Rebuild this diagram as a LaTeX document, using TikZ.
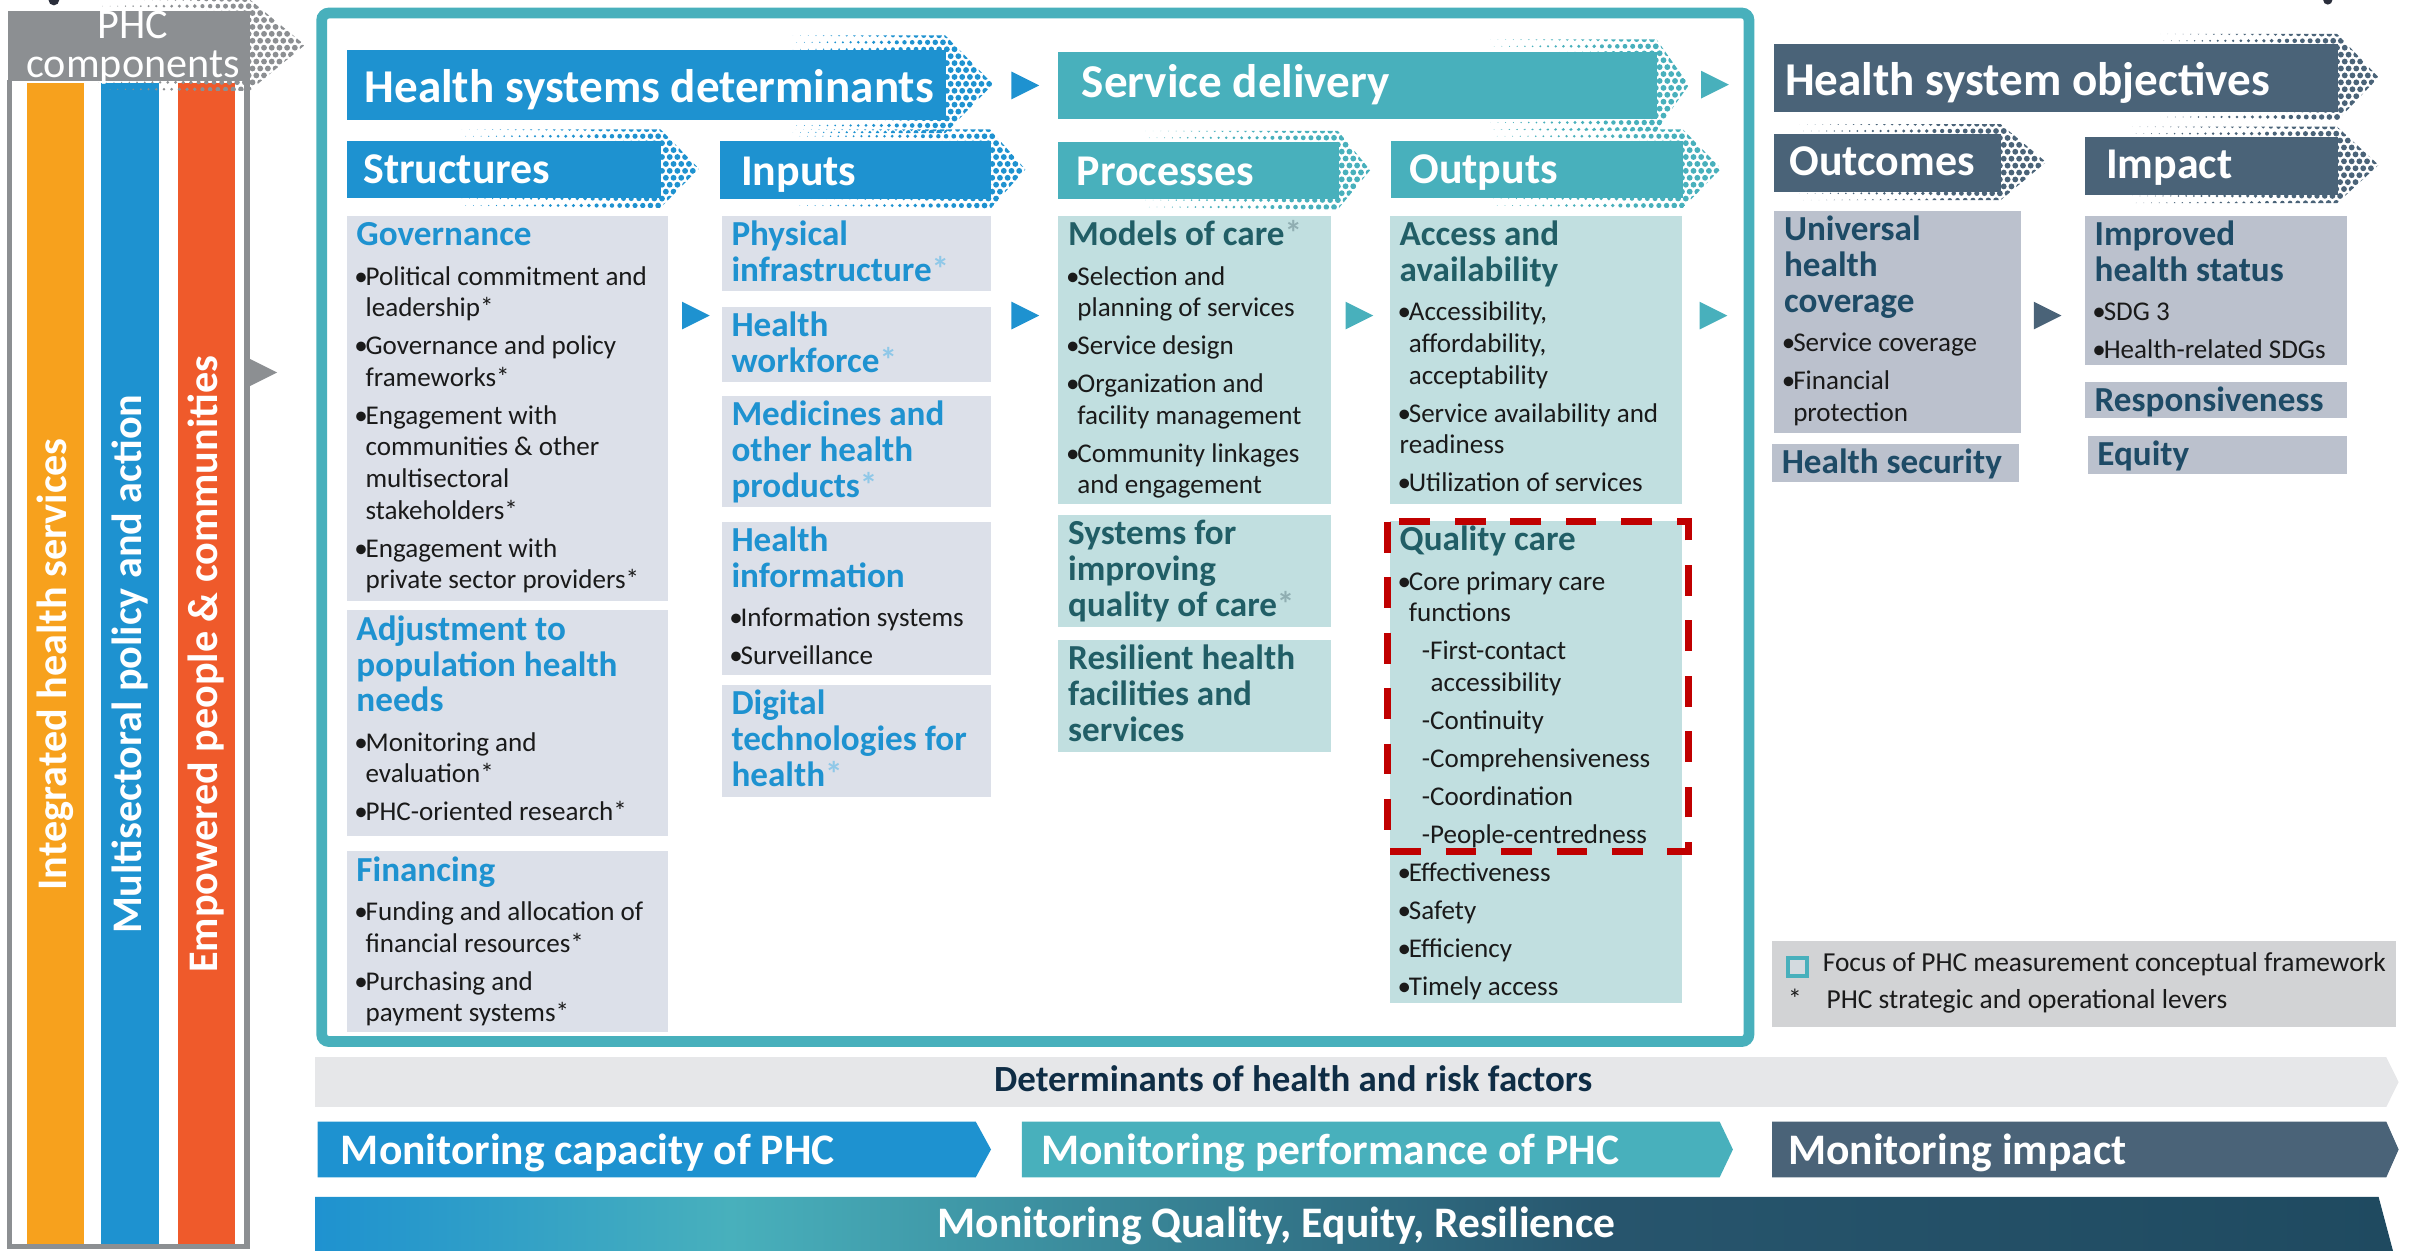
\documentclass[tikz,border=0pt]{standalone}
\usepackage{fontspec}
\setmainfont{Carlito}

\definecolor{hsdblue}{HTML}{1E92D0}
\definecolor{sdteal}{HTML}{48B0BC}
\definecolor{objslate}{HTML}{4A6378}
\definecolor{phcgray}{HTML}{8C8F92}
\definecolor{pillarorange}{HTML}{F7A11D}
\definecolor{pillarblue}{HTML}{1E92D0}
\definecolor{pillarred}{HTML}{EF5A2B}
\definecolor{detfill}{HTML}{DCE0E9}
\definecolor{sdfill}{HTML}{C1DFE0}
\definecolor{objfill}{HTML}{BBC1CD}
\definecolor{sdink}{HTML}{215E66}
\definecolor{objink}{HTML}{1E4B66}
\definecolor{bodyink}{HTML}{1A1A1A}
\definecolor{qred}{HTML}{C00000}
\definecolor{keyfill}{HTML}{D2D3D5}
\definecolor{keysquare}{HTML}{D3DADF}
\definecolor{riskfill}{HTML}{E6E7E9}
\definecolor{riskink}{HTML}{0F2D45}
\definecolor{qerdark}{HTML}{27556D}
\definecolor{qerend}{HTML}{1F4A60}
\definecolor{cropdot}{HTML}{2A2E3B}

\pgfdeclarehorizontalshading{qerbar}{100bp}{color(0bp)=(hsdblue); color(25bp)=(hsdblue);
  color(35bp)=(sdteal); color(56bp)=(qerdark); color(75bp)=(qerend); color(100bp)=(qerend)}

\newlength\unitpx
\setlength\unitpx{0.43803pt}

\tikzstyle{hdr} = [anchor=north west, inner sep=0pt, text=white, font=\fontsize{13.4}{15}\selectfont\bfseries]
\tikzstyle{subhdr} = [hdr, font=\fontsize{12.5}{14}\selectfont\bfseries]
\tikzstyle{cell} = [anchor=north west, inner sep=0pt, font=\fontsize{10}{10.2}\selectfont\bfseries]
\tikzstyle{detcell} = [cell, fill=detfill, text=hsdblue]
\tikzstyle{sdcell} = [cell, fill=sdfill, text=sdink]
\tikzstyle{objcell} = [cell, fill=objfill, text=objink]
\tikzstyle{pillar} = [rotate=90, inner sep=0pt, minimum width=755\unitpx, minimum height=37.4\unitpx, text=white, font=\fontsize{12}{14}\selectfont\bfseries]
\tikzstyle{phctext} = [anchor=base, inner sep=0pt, text=white, font=\fontsize{12}{13}\selectfont]
\tikzstyle{barlabel} = [anchor=base west, inner sep=0pt, text=white, font=\fontsize{12.4}{14}\selectfont\bfseries]
\tikzstyle{keytext} = [anchor=base west, inner sep=0pt, text=bodyink, font=\fontsize{7.8}{9}\selectfont]

% header text, left aligned in a box of fixed width
\newcommand\hdrtext[3]{\makebox[#1\unitpx][l]{\hspace*{#2\unitpx}#3}}
% box content: width, height, paragraphs
\newcommand\cellbody[3]{\parbox[t][#2\unitpx][t]{#1\unitpx}{\raggedright\leftskip=2.8pt\rightskip=-15pt plus 1fil\parskip=1.8pt\relax #3}}
\newcommand\ttl[1]{{\fontsize{10}{10.2}\selectfont\bfseries\rule{0pt}{8.5pt}#1\par}\vspace{0.4pt}}
\newcommand\lev{{\color{.!50!white}*}}
\newcommand\itm[2][2.6pt]{{\let\\\newline\mdseries\fontsize{7.7}{9}\selectfont\hangindent=#1\hangafter=1\relax\leavevmode\color{bodyink}\makebox[2.6pt][c]{•}#2\par}}
\newcommand\subitm[1]{{\let\\\newline\mdseries\fontsize{7.7}{9}\selectfont\hangindent=8.8pt\hangafter=1\relax\leavevmode\color{bodyink}\hspace*{6.3pt}-#1\par}}
\newcommand\pointer[3]{\fill[#1] (#2,#3-9) -- (#2+18,#3) -- (#2,#3+9) -- cycle;}

% dotted arrow end: colour, dots start, box edge, tip, top, bottom, overhang
\newcommand\halftone[7]{%
  \begin{scope}
    \clip (#2,#5-#7) -- (#3,#5-#7) -- (#4,{(#5+#6)/2}) -- (#3,#6+#7) -- (#2,#6+#7) -- cycle;
    \pgfmathtruncatemacro\htcols{(#4-#2)/5+1}
    \pgfmathtruncatemacro\htrows{(#6-#5+2*#7)/4.5+1}
    \foreach \i in {0,...,\htcols}{
      \foreach \j in {0,...,\htrows}{
        \pgfmathsetmacro\htx{#2+5*\i+2.5*mod(\j,2)}
        \pgfmathsetmacro\hty{#5-#7+4.5*\j}
        \pgfmathsetmacro\htr{0.15+1.75*min(1,max(0,(\htx-#2)/(#3-#2)))}
        \fill[#1] (\htx,\hty) circle[radius=\htr];
      }
    }
  \end{scope}}

\begin{document}
\begin{tikzpicture}[x=0.43803pt, y=-0.43803pt]
\useasboundingbox (0,0) rectangle (1568,812);
\clip (0,0) rectangle (1568,812);

\fill[cropdot] (35,0) circle[radius=3.5];
\fill[cropdot] (1512,0) circle[radius=3];

% PHC components
\node[pillar, fill=pillarorange] (ihs) at (36,431.5) {Integrated health services};
\node[pillar, fill=pillarblue] (msp) at (84.5,431.5) {Multisectoral policy and action};
\node[pillar, fill=pillarred] (epc) at (134,431.5) {Empowered people \& communities};
\draw[phcgray, line width=1.53pt] (6,52) -- (6,809.5) -- (160.5,809.5) -- (160.5,52);
\halftone{phcgray}{64}{162}{198}{6.5}{52}{7}
\node[fill=phcgray, anchor=north west, inner sep=0pt, minimum width=157\unitpx, minimum height=45.5\unitpx] (phchead) at (5,6.5) {};
\node[phctext] (phcword) at (86.5,25) {PHC};
\node[phctext] (phcparts) at (86.5,50.5) {components};
\pointer{phcgray}{162}{242}

\draw[sdteal, line width=3.07pt, rounded corners=2pt] (209,8.5) rectangle (1136,676.5);

% headers
\halftone{hsdblue}{515}{614}{645}{32}{77.5}{9}
\halftone{sdteal}{968}{1076}{1097}{33.6}{76.9}{8}
\halftone{objslate}{1403}{1518}{1545}{28}{72.5}{6}
\halftone{hsdblue}{300}{429}{454}{91}{128}{7}
\halftone{hsdblue}{517}{643}{666}{91}{129}{7}
\halftone{sdteal}{744}{869}{890}{92}{129}{7}
\halftone{sdteal}{970}{1093}{1118}{91}{128}{7}
\halftone{objslate}{1169}{1299.5}{1329}{86.6}{124}{6}
\halftone{objslate}{1385}{1518}{1545}{88.3}{126}{6}

\node[hdr, fill=hsdblue, text height=14.89pt, text depth=5.04pt] (hsd) at (224.7,32) {\hdrtext{389.3}{11.7}{Health systems determinants}};
\node[hdr, fill=sdteal, text height=12.79pt, text depth=6.18pt] (sdl) at (686.6,33.6) {\hdrtext{389.4}{15.6}{Service delivery}};
\node[hdr, fill=objslate, text height=14.76pt, text depth=4.73pt] (hso) at (1151.7,28) {\hdrtext{366.3}{7.3}{Health system objectives}};
\node[subhdr, fill=hsdblue, text height=12.26pt, text depth=3.94pt] (structures) at (224.7,91) {\hdrtext{204.3}{10.8}{Structures}};
\node[subhdr, fill=hsdblue, text height=12.7pt, text depth=3.94pt] (inputs) at (467,91) {\hdrtext{176}{14}{Inputs}};
\node[subhdr, fill=sdteal, text height=12.26pt, text depth=3.94pt] (processes) at (687,92) {\hdrtext{182}{12}{Processes}};
\node[subhdr, fill=sdteal, text height=12.26pt, text depth=3.94pt] (outputs) at (903,91) {\hdrtext{190}{12}{Outputs}};
\node[subhdr, fill=objslate, text height=11.87pt, text depth=4.51pt] (outcomes) at (1151.7,86.6) {\hdrtext{147.8}{10.3}{Outcomes}};
\node[subhdr, fill=objslate, text height=12.05pt, text depth=4.47pt] (impact) at (1353.6,88.3) {\hdrtext{164.4}{14}{Impact}};

\pointer{hsdblue}{657}{55.5}
\pointer{sdteal}{1105}{55}

% structures
\node[detcell] (gov) at (224.7,139.7) {\cellbody{209}{250}{%
  \ttl{Governance}
  \itm{Political commitment and\\leadership*}
  \itm{Governance and policy\\frameworks*}
  \itm{Engagement with\\communities \& other\\multisectoral\\stakeholders*}
  \itm{Engagement with\\private sector providers*}}};
\node[detcell] (adjust) at (224.7,396) {\cellbody{209}{146.4}{%
  \ttl{Adjustment to\\population health\\needs}
  \itm{Monitoring and\\evaluation*}
  \itm{PHC-oriented research*}}};
\node[detcell] (financing) at (224.7,552.6) {\cellbody{209}{117}{%
  \ttl{Financing}
  \itm{Funding and allocation of\\financial resources*}
  \itm{Purchasing and\\payment systems*}}};

% inputs
\node[detcell] (infra) at (468.3,139.7) {\cellbody{175}{48.7}{\ttl{Physical\\infrastructure\lev}}};
\node[detcell] (workforce) at (468.3,198.8) {\cellbody{175}{48.7}{\ttl{Health\\workforce\lev}}};
\node[detcell] (medicines) at (468.3,256.6) {\cellbody{175}{72.4}{\ttl{Medicines and\\other health\\products\lev}}};
\node[detcell] (hinfo) at (468.3,338.4) {\cellbody{175}{99.4}{%
  \ttl{Health\\information}
  \itm{Information systems}
  \itm{Surveillance}}};
\node[detcell] (digital) at (468.3,444.3) {\cellbody{175}{72.7}{\ttl{Digital\\technologies for\\health\lev}}};

% processes
\node[sdcell] (models) at (687,139.7) {\cellbody{177}{187}{%
  \ttl{Models of care\lev}
  \itm{Selection and\\planning of services}
  \itm{Service design}
  \itm{Organization and\\facility management}
  \itm{Community linkages\\and engagement}}};
\node[sdcell] (qsystems) at (687,334) {\cellbody{177}{72.6}{\ttl{Systems for\\improving\\quality of care\lev}}};
\node[sdcell] (resilient) at (687,415) {\cellbody{177}{73}{\ttl{Resilient health\\facilities and\\services}}};

% outputs
\node[sdcell] (access) at (902.3,139.7) {\cellbody{189.7}{187}{%
  \ttl{Access and\\availability}
  \itm{Accessibility,\\affordability,\\acceptability}
  \itm[0pt]{Service availability and\\readiness}
  \itm{Utilization of services}}};
\node[sdcell] (quality) at (902.3,338) {\cellbody{189.7}{313}{%
  \ttl{Quality care}
  \itm{Core primary care\\functions}
  \subitm{First-contact\\accessibility}
  \subitm{Continuity}
  \subitm{Comprehensiveness}
  \subitm{Coordination}
  \subitm{People-centredness}
  \itm{Effectiveness}
  \itm{Safety}
  \itm{Efficiency}
  \itm{Timely access}}};
\draw[qred, line width=1.97pt, dash pattern=on 8.76pt off 7.01pt] (901,339) rectangle (1097,553);

% outcomes and impact
\node[objcell] (uhc) at (1152,136.4) {\cellbody{160}{144.2}{%
  \ttl{Universal\\health\\coverage}
  \itm{Service coverage}
  \itm{Financial\\protection}}};
\node[objcell] (hsecurity) at (1150.5,287.8) {\cellbody{160.5}{24.6}{\ttl{Health security}}};
\node[objcell] (hstatus) at (1353.7,139.7) {\cellbody{170.3}{96.8}{%
  \ttl{Improved\\health status}
  \itm{SDG 3}
  \itm{Health-related SDGs}}};
\node[objcell] (respons) at (1353.7,247.5) {\cellbody{170.5}{23.3}{\ttl{Responsiveness}}};
\node[objcell] (equity) at (1355.5,282.6) {\cellbody{168.5}{24.6}{\ttl{Equity}}};

\pointer{hsdblue}{443}{205}
\pointer{hsdblue}{657}{205}
\pointer{sdteal}{874}{205}
\pointer{sdteal}{1104}{205}
\pointer{objslate}{1321}{205}

% key
\node[fill=keyfill, anchor=north west, inner sep=0pt, minimum width=405.3\unitpx, minimum height=55.9\unitpx] (key) at (1150.4,610.6) {};
\node[draw=sdteal, fill=keysquare, line width=1.1pt, inner sep=0pt, minimum size=12\unitpx] (keysq) at (1167.5,628.2) {};
\node[keytext] (keyfocus) at (1183.5,631.3) {Focus of PHC measurement conceptual framework};
\node[keytext] (keystar) at (1161,655) {*};
\node[keytext] (keylevers) at (1186,655) {PHC strategic and operational levers};

% monitoring bars
\fill[riskfill] (204.7,686.7) -- (1550,686.7) -- (1558,702.85) -- (1550,719) -- (204.7,719) -- cycle;
\node[anchor=base, inner sep=0pt, text=riskink, font=\fontsize{10.5}{12}\selectfont\bfseries] (risk) at (840,709) {Determinants of health and risk factors};
\fill[hsdblue] (206.3,728.6) -- (633.8,728.6) -- (643.7,746.65) -- (633.8,764.7) -- (206.3,764.7) -- cycle;
\node[barlabel] (capacity) at (221,756.7) {Monitoring capacity of PHC};
\fill[sdteal] (663.7,728.6) -- (1117,728.6) -- (1125.6,746.65) -- (1117,764.7) -- (663.7,764.7) -- cycle;
\node[barlabel] (performance) at (676,756.7) {Monitoring performance of PHC};
\fill[objslate] (1151,728.6) -- (1550,728.6) -- (1558,746.65) -- (1550,764.7) -- (1151,764.7) -- cycle;
\node[barlabel] (impactbar) at (1161,756.7) {Monitoring impact};
\shade[shading=qerbar] (204.7,777.5) -- (1545,777.5) -- (1555,815) -- (1545,852) -- (204.7,852) -- cycle;
\node[barlabel, anchor=base] (qer) at (829,804) {Monitoring Quality, Equity, Resilience};
\end{tikzpicture}
\end{document}
